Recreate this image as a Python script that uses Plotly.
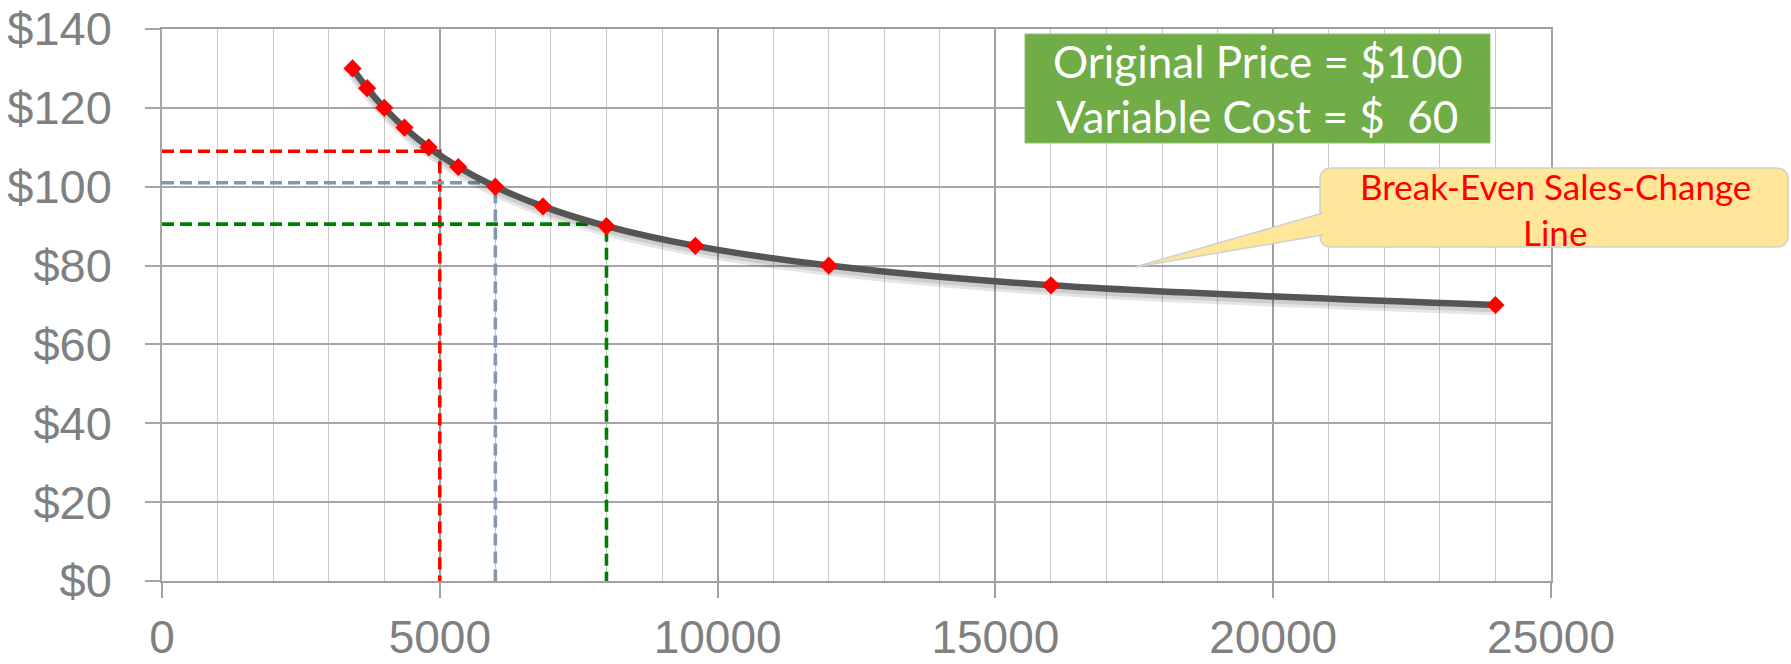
import plotly.graph_objects as go

# ---------------- data ----------------
sales_volume = [3429, 3692, 4000, 4364, 4800, 5333, 6000, 6857, 8000, 9600, 12000, 16000, 24000]
price = [130, 125, 120, 115, 110, 105, 100, 95, 90, 85, 80, 75, 70]

guide_volume = [5000, 6000, 8000]
guide_price = [109, 101, 90.5]
guide_color = ["#ff0000", "#8497b0", "#008000"]

y_ticks = [0, 20, 40, 60, 80, 100, 120, 140]
y_tick_text = ["$0", "$20", "$40", "$60", "$80", "$100", "$120", "$140"]
x_ticks = [0, 5000, 10000, 15000, 20000, 25000]
x_tick_text = ["0", "5000", "10000", "15000", "20000", "25000"]

info_lines = ["Original Price = $100", "Variable Cost = $\u00a0 60"]
callout_lines = ["Break-Even Sales-Change", "Line"]

# ---------------- layout helpers ----------------
W, H = 1791, 664
ML, MR, MT, MB = 162, 240, 29, 83
PW = W - ML - MR
PH = H - MT - MB


def px(x):
    return (x - ML) / PW


def py(y):
    return (H - MB - y) / PH


fig = go.Figure()

for v, p, c in zip(guide_volume, guide_price, guide_color):
    fig.add_trace(go.Scatter(
        x=[0, v, v], y=[p, p, 0], mode="lines",
        line=dict(color=c, width=3.6, dash="12px,6px"),
        hoverinfo="skip", showlegend=False))

# soft shadow under the curve
fig.add_trace(go.Scatter(
    x=sales_volume, y=[p - 1.2 for p in price], mode="lines",
    line=dict(color="rgba(0,0,0,0.10)", width=11, shape="spline"),
    hoverinfo="skip", showlegend=False))
fig.add_trace(go.Scatter(
    x=sales_volume, y=[p - 0.8 for p in price], mode="lines",
    line=dict(color="rgba(0,0,0,0.10)", width=8, shape="spline"),
    hoverinfo="skip", showlegend=False))

fig.add_trace(go.Scatter(
    x=sales_volume, y=price, mode="lines+markers",
    line=dict(color="#555555", width=6.5, shape="spline"),
    marker=dict(symbol="diamond", size=14, color="#ff0000", line=dict(width=0)),
    showlegend=False))

grid_h = "#a6a6a6"
grid_major = "#a0a0a0"
grid_minor = "#c8c8c8"
y_tick_font = dict(family="Liberation Sans, Arial, sans-serif", size=47, color="#808080")
x_tick_font = dict(family="Liberation Sans, Arial, sans-serif", size=46, color="#808080")

fig.update_xaxes(
    range=[0, 25000], tickvals=x_ticks, ticktext=x_tick_text,
    showgrid=True, gridcolor=grid_major, gridwidth=1.5,
    minor=dict(dtick=1000, showgrid=True, gridcolor=grid_minor, gridwidth=1.3),
    ticks="outside", ticklen=15, tickwidth=1.5, tickcolor=grid_major,
    showline=True, linecolor=grid_major, linewidth=1.5, mirror=True,
    zeroline=False, tickfont=x_tick_font, ticklabelstandoff=0, automargin=False)

fig.update_yaxes(
    range=[0, 140], tickvals=y_ticks, ticktext=y_tick_text,
    showgrid=True, gridcolor=grid_h, gridwidth=1.5,
    ticks="outside", ticklen=15, tickwidth=1.5, tickcolor=grid_h,
    showline=True, linecolor=grid_h, linewidth=1.5, mirror=True,
    zeroline=False, tickfont=y_tick_font, ticklabelstandoff=24, automargin=False)

shapes = []
annotations = []

# green info box
shapes.append(dict(type="rect", xref="paper", yref="paper",
                   x0=px(1025), x1=px(1490), y0=py(143), y1=py(34),
                   fillcolor="#70ad47", line=dict(width=1, color="#8cc26a"), layer="above"))
for line_text, cy in zip(info_lines, [61, 116]):
    annotations.append(dict(xref="paper", yref="paper", x=px(1257), y=py(cy),
                            text=line_text, showarrow=False, xanchor="center", yanchor="middle",
                            font=dict(family="Lato, Liberation Sans, sans-serif", size=44, color="white")))

# yellow callout
bx0, bx1, by0, by1 = 1320, 1788, 168, 247
r = 12
rx, ry = r / PW, r / PH
X0, X1, Ytop, Ybot = px(bx0), px(bx1), py(by0), py(by1)
box_path = (f"M {X0+rx},{Ytop} L {X1-rx},{Ytop} Q {X1},{Ytop} {X1},{Ytop-ry} "
            f"L {X1},{Ybot+ry} Q {X1},{Ybot} {X1-rx},{Ybot} L {X0+rx},{Ybot} "
            f"Q {X0},{Ybot} {X0},{Ybot+ry} L {X0},{Ytop-ry} Q {X0},{Ytop} {X0+rx},{Ytop} Z")
shapes.append(dict(type="path", xref="paper", yref="paper", path=box_path,
                   fillcolor="#ffe699", line=dict(width=1.5, color="#d0d0d0"), layer="above"))
wedge_path = (f"M {px(bx0 + 3)},{py(213)} L {px(1135)},{py(267)} L {px(bx0 + 3)},{py(235)}")
shapes.append(dict(type="path", xref="paper", yref="paper", path=wedge_path,
                   fillcolor="#ffe699", line=dict(width=1.5, color="#d0d0d0"), layer="above"))
for line_text, cy in zip(callout_lines, [186, 232]):
    annotations.append(dict(xref="paper", yref="paper", x=px(1555), y=py(cy),
                            text=line_text, showarrow=False, xanchor="center", yanchor="middle",
                            font=dict(family="Lato, Liberation Sans, sans-serif", size=35, color="#ff0000")))

fig.update_layout(
    width=W, height=H,
    margin=dict(l=ML, r=MR, t=MT, b=MB, autoexpand=False),
    paper_bgcolor="white", plot_bgcolor="white",
    shapes=shapes, annotations=annotations,
    showlegend=False)

fig.write_html("out.html")
